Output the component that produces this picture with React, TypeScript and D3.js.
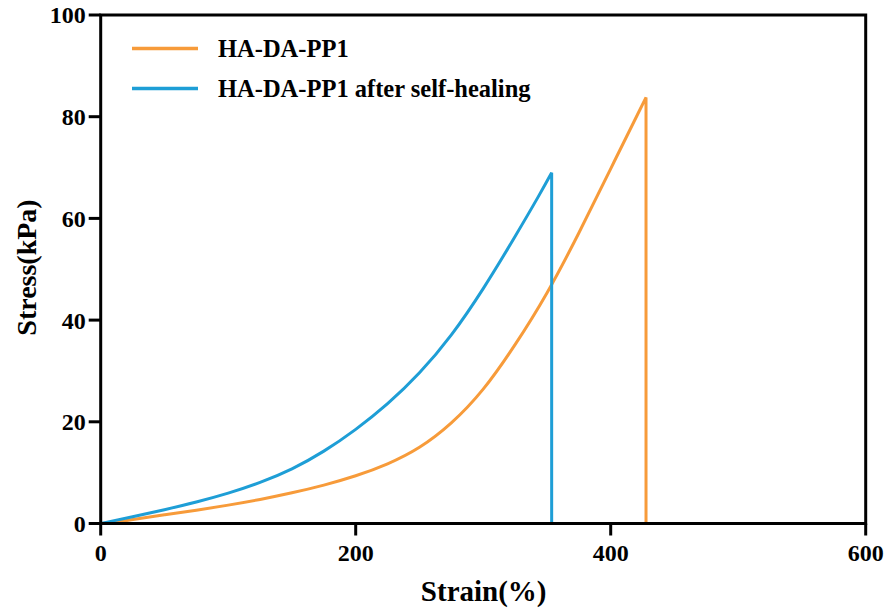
import React from "react";
import * as d3 from "d3";

const strainA = [0, 10, 25, 50, 75, 100, 125, 150, 175, 200, 225, 250, 275, 300, 325, 350, 375, 400, 427.7];
const stressA = [0, 0.15, 0.8, 1.7, 2.6, 3.6, 4.7, 6.0, 7.5, 9.3, 11.6, 14.7, 19.5, 26.0, 35.0, 45.0, 57.0, 69.8, 83.8];
const dropA = 427.7;

const strainB = [0, 25, 50, 75, 100, 125, 150, 175, 200, 225, 250, 275, 300, 325, 345, 353.7];
const stressB = [0, 1.3, 2.7, 4.2, 5.9, 8.0, 10.6, 14.1, 18.4, 23.4, 29.4, 36.8, 46.0, 56.4, 65.0, 69.0];
const dropB = 353.7;

const seriesNames = ["HA-DA-PP1", "HA-DA-PP1 after self-healing"];
const colors = ["#F79B3A", "#1E9ED6"];
const xTicks = [0, 200, 400, 600];
const yTicks = [0, 20, 40, 60, 80, 100];

export default function App() {
  const W = 887, H = 614;
  const left = 100.7, right = 865.7, top = 15, bottom = 523.5;
  const x = d3.scaleLinear().domain([0, 600]).range([left, right]);
  const y = d3.scaleLinear().domain([0, 100]).range([bottom, top]);
  const line = d3.line<[number, number]>().x(d => x(d[0])).y(d => y(d[1])).curve(d3.curveBasis);
  const pathA = line(strainA.map((s, i) => [s, stressA[i]] as [number, number])) + `L${x(dropA)},${y(0)}`;
  const pathB = line(strainB.map((s, i) => [s, stressB[i]] as [number, number])) + `L${x(dropB)},${y(0)}`;
  const font = "'Liberation Serif', 'Times New Roman', serif";
  return (
    <svg width={W} height={H} style={{ position: "absolute", left: 0, top: 0, background: "#fff" }} fontFamily={font} fontWeight="bold">
      <path d={pathA} fill="none" stroke={colors[0]} strokeWidth={3} strokeLinejoin="miter" />
      <path d={pathB} fill="none" stroke={colors[1]} strokeWidth={3} strokeLinejoin="miter" />
      <rect x={left} y={top} width={right - left} height={bottom - top} fill="none" stroke="#000" strokeWidth={3} />
      {yTicks.map(t => (
        <g key={"y" + t}>
          <line x1={left - 12} x2={left} y1={y(t)} y2={y(t)} stroke="#000" strokeWidth={3} />
          <text x={left - 15} y={y(t)} dy="0.35em" textAnchor="end" fontSize={24}>{t}</text>
        </g>
      ))}
      {xTicks.map(t => (
        <g key={"x" + t}>
          <line x1={x(t)} x2={x(t)} y1={bottom} y2={bottom + 12} stroke="#000" strokeWidth={3} />
          <text x={x(t)} y={561} textAnchor="middle" fontSize={24}>{t}</text>
        </g>
      ))}
      <text x={483.7} y={601} textAnchor="middle" fontSize={29}>Strain(%)</text>
      <text transform={`translate(36,267.5) rotate(-90)`} textAnchor="middle" fontSize={28}>Stress(kPa)</text>
      {seriesNames.map((n, i) => (
        <g key={n}>
          <line x1={132} x2={198} y1={48.5 + i * 40} y2={48.5 + i * 40} stroke={colors[i]} strokeWidth={3.5} />
          <text x={218} y={48.5 + i * 40} dy="0.35em" fontSize={24.5}>{n}</text>
        </g>
      ))}
    </svg>
  );
}
